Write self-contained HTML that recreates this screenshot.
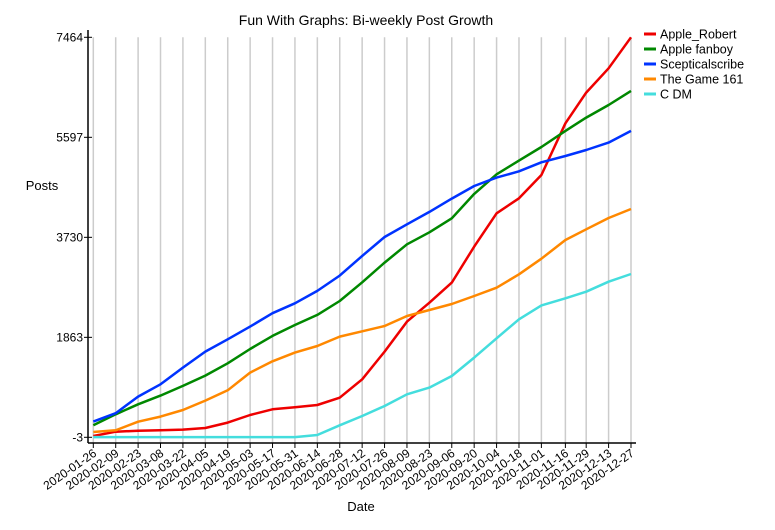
<!DOCTYPE html>
<html><head><meta charset="utf-8"><style>
body{margin:0;background:#fff;}
svg text{font-family:"Liberation Sans",sans-serif;fill:#000;}
</style></head><body>
<svg id="chart" width="775" height="525" viewBox="0 0 775 525">
<text x="366" y="25" text-anchor="middle" font-size="14">Fun With Graphs: Bi-weekly Post Growth</text>
<text x="42" y="190" text-anchor="middle" font-size="13">Posts</text>
<text x="361" y="511" text-anchor="middle" font-size="13">Date</text>
<g id="grid"></g><g id="series"></g><g id="axes"></g><g id="legend"></g>
</svg>
<script>
const dates=["2020-01-26","2020-02-09","2020-02-23","2020-03-08","2020-03-22","2020-04-05","2020-04-19","2020-05-03","2020-05-17","2020-05-31","2020-06-14","2020-06-28","2020-07-12","2020-07-26","2020-08-09","2020-08-23","2020-09-06","2020-09-20","2020-10-04","2020-10-18","2020-11-01","2020-11-16","2020-11-29","2020-12-13","2020-12-27"];
const yTicks=[-3,1863,3730,5597,7464];
const seriesNames=["Apple_Robert","Apple fanboy","Scepticalscribe","The Game 161","C DM"];
const seriesColors=["#e00","#080","#0033ff","#ff8800","#44dddd"];
const appleRobert=[21,102,121,127,140,171,271,414,519,557,600,737,1079,1596,2156,2510,2884,3556,4178,4458,4894,5858,6431,6885,7464];
const appleFanboy=[221,427,613,775,956,1148,1379,1646,1889,2094,2281,2542,2891,3258,3600,3824,4086,4540,4907,5162,5417,5716,5965,6201,6463];
const scepticalscribe=[290,446,757,987,1298,1597,1827,2064,2313,2499,2729,3015,3383,3737,3974,4204,4453,4689,4845,4963,5131,5249,5361,5498,5716];
const theGame161=[96,127,289,383,507,682,874,1204,1416,1578,1702,1876,1975,2075,2261,2373,2485,2635,2790,3039,3331,3680,3879,4091,4259];
const cDM=[0,0,0,0,0,0,0,0,0,0,40,221,394,581,799,924,1141,1484,1845,2199,2460,2591,2715,2902,3045];
const allSeries=[appleRobert,appleFanboy,scepticalscribe,theGame161,cDM];
const NS="http://www.w3.org/2000/svg";
const t0=Date.parse(dates[0]),t1=Date.parse(dates[dates.length-1]);
const X0=93.3,X1=631,Y0=437.3,Y1=37.3,ymin=-3,ymax=7464;
function xs(d){return X0+(Date.parse(d)-t0)/(t1-t0)*(X1-X0);}
function ys(v){return Y0-(v-ymin)/(ymax-ymin)*(Y0-Y1);}
function mk(tag,attrs,parent){const e=document.createElementNS(NS,tag);for(const k in attrs)e.setAttribute(k,attrs[k]);parent.appendChild(e);return e;}
const grid=document.getElementById('grid'),axes=document.getElementById('axes'),sg=document.getElementById('series'),lg=document.getElementById('legend');
dates.forEach(d=>{
 const x=xs(d);
 const l=mk('line',{x1:x,x2:x,y1:Y1,y2:443,stroke:'#ccc','stroke-width':1.5},grid);
 
 
 const t=mk('line',{x1:x,x2:x,y1:443,y2:448,stroke:'#000','stroke-width':1},axes);
 
 
 const tx=mk('text',{x:0,y:0,'font-size':12,'text-anchor':'end',transform:`translate(${x+4},${455}) rotate(-35)`},axes);
 tx.textContent=d;
 
 
});
const xa=mk('line',{x1:88,x2:636,y1:443,y2:443,stroke:'#000','stroke-width':1.5},axes);


const ya=mk('line',{x1:88,x2:88,y1:30,y2:443,stroke:'#000','stroke-width':1.5},axes);


yTicks.forEach(v=>{
 const y=ys(v);
 const t=mk('line',{x1:84,x2:92,y1:y,y2:y,stroke:'#000','stroke-width':1},axes);
 
 
 const tx=mk('text',{x:83,y:y+4,'font-size':12,'text-anchor':'end'},axes);
 tx.textContent=String(v);
 
 
});
allSeries.forEach((s,i)=>{
 const pts=s.map((v,j)=>xs(dates[j]).toFixed(1)+','+ys(v).toFixed(1)).join(' ');
 const p=mk('polyline',{points:pts,fill:'none',stroke:seriesColors[i],'stroke-width':2.5,'stroke-linejoin':'round'},sg);
 
 
 const ly=34+i*15;
 const ll=mk('line',{x1:644,x2:656,y1:ly,y2:ly,stroke:seriesColors[i],'stroke-width':3},lg);
 
 
 const lt=mk('text',{x:660,y:ly+4.5,'font-size':12.5},lg);
 lt.textContent=seriesNames[i];
 
 
});
</script>
</body></html>
